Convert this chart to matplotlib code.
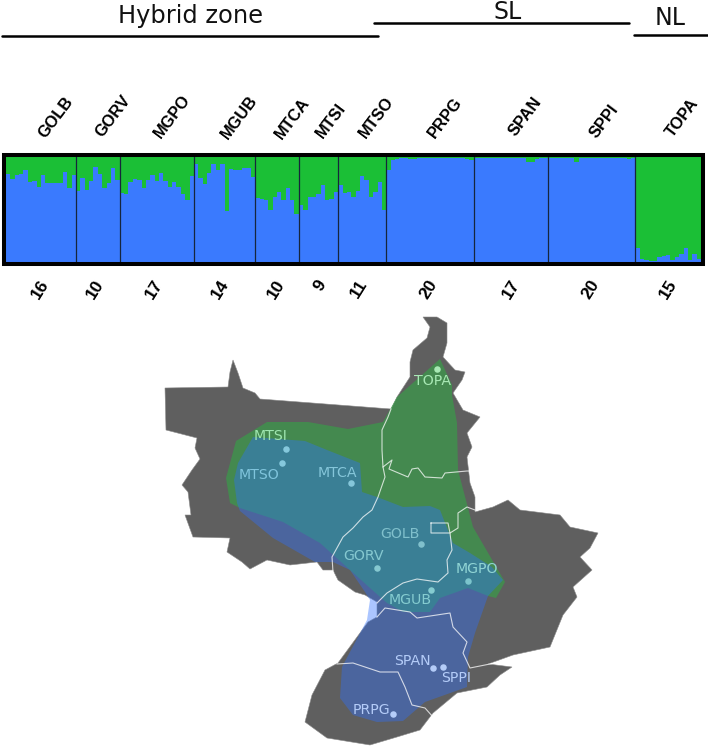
import numpy as np
import matplotlib
matplotlib.use('Agg')
from matplotlib import pyplot as plt
from matplotlib.patches import Polygon, Rectangle

W, H = 708, 748

# proporcion de cluster verde por individuo
populations = ['GOLB', 'GORV', 'MGPO', 'MGUB', 'MTCA', 'MTSI', 'MTSO', 'PRPG', 'SPAN', 'SPPI', 'TOPA']
GOLB = [.16, .21, .175, .16, .12, .24, .23, .285, .17, .25, .25, .25, .25, .14, .295, .17]
GORV = [.32, .20, .31, .23, .095, .16, .295, .25, .105, .215]
MGPO = [.34, .35, .24, .205, .22, .295, .22, .17, .23, .15, .23, .285, .24, .285, .35, .41, .185]
MGUB = [.07, .20, .255, .15, .07, .125, .07, .515, .11, .125, .12, .10, .10, .19]
MTCA = [.39, .40, .41, .50, .385, .33, .41, .295, .41, .54]
MTSI = [.46, .50, .385, .38, .35, .265, .405, .40, .335]
MTSO = [.27, .34, .33, .38, .32, .185, .22, .385, .335, .235, .50]
PRPG = [.12, .03, .015, .01, .01, .015, .015, .01, .01, .01, .01, .01, .01, .01, .01, .01, .01, .01, .015, .03]
SPAN = [.005, .005, .01, .005, .005, .005, .005, .01, .005, .005, .005, .005, .05, .045, .02, .01, .005]
SPPI = [.01, .01, .005, .005, .005, .005, .045, .01, .005, .005, .005, .01, .005, .005, .005, .005, .005, .005, .02, .005]
TOPA = [.87, .97, .985, .99, .99, .95, .94, .935, .985, .95, .92, .865, .985, .92, .97]
green_vals = [GOLB, GORV, MGPO, MGUB, MTCA, MTSI, MTSO, PRPG, SPAN, SPPI, TOPA]
counts = ['16', '10', '17', '14', '10', '9', '11', '20', '17', '20', '15']

# posiciones de etiquetas en pixeles de la imagen
pop_label_xy = [(56, 117), (113, 116), (172, 116), (239, 117), (292, 118), (331, 121), (376, 117),
                (445, 118), (525, 117), (604, 121), (682, 118)]
count_xy = [(40, 289), (95, 289), (154, 289), (220, 289), (276, 289), (320, 286), (359, 289),
            (429, 289), (511, 289), (591, 289), (668, 289)]

# mapa: contornos en pixeles de la imagen
land = [(165, 388), (228, 387), (230, 372), (233, 360), (238, 373), (243, 388), (255, 393), (260, 399), (391, 409),
        (397, 397), (410, 377), (410, 362), (413, 350), (427, 338), (430, 327), (423, 317), (437, 317), (447, 323),
        (447, 343), (443, 357), (455, 370), (465, 372), (462, 380), (453, 393), (463, 410), (480, 417), (467, 433),
        (472, 447), (467, 457), (470, 483), (475, 497), (475, 512), (493, 507), (508, 500), (520, 510), (560, 515),
        (570, 527), (598, 533), (590, 548), (580, 557), (592, 570), (573, 587), (577, 597), (563, 615), (550, 647),
        (513, 655), (488, 664), (512, 667), (500, 675), (487, 687), (457, 693), (433, 713), (420, 730), (397, 737),
        (370, 745), (327, 738), (305, 722), (312, 695), (325, 670), (338, 663), (360, 633), (368, 622), (377, 617),
        (377, 602), (365, 595), (355, 592), (338, 580), (333, 570), (323, 570), (317, 562), (290, 565), (267, 560),
        (250, 569), (242, 562), (227, 552), (230, 538), (193, 537), (185, 515), (191, 515), (188, 492), (182, 485),
        (192, 470), (200, 459), (195, 448), (197, 438), (166, 430)]
green_area = [(226, 478), (236, 441), (267, 422), (308, 422), (348, 429), (383, 422), (397, 397), (440, 359), (452, 385),
              (452, 395), (457, 423), (458, 470), (473, 527), (505, 582), (496, 598), (488, 596), (468, 588), (440, 598),
              (430, 612), (403, 612), (387, 603), (370, 588), (320, 543), (283, 522), (240, 508), (230, 503)]
blue_area = [(234, 480), (238, 463), (253, 437), (305, 441), (327, 450), (360, 463), (362, 492), (377, 497), (403, 507),
             (430, 506), (440, 510), (453, 543), (470, 553), (492, 567), (503, 580), (488, 596), (475, 633), (468, 657),
             (467, 687), (425, 702), (403, 721), (377, 722), (353, 715), (340, 698), (342, 667), (367, 620), (370, 600),
             (365, 592), (350, 570), (333, 562), (315, 562), (273, 538), (240, 511), (237, 503)]
borders = [
    [(391, 409), (388, 417), (382, 430), (382, 450), (383, 467), (385, 477), (378, 497), (372, 510), (363, 517),
     (353, 528), (343, 537), (332, 557), (333, 572)],
    [(383, 467), (392, 460), (389, 469), (408, 477), (412, 469), (418, 468), (425, 477), (442, 478), (445, 473),
     (467, 471), (472, 471)],
    [(475, 510), (467, 507), (458, 513), (458, 528), (450, 533), (452, 550), (447, 560), (448, 573), (438, 582),
     (417, 579), (403, 583), (387, 593), (377, 603)],
    [(431, 523), (448, 523), (450, 533), (431, 533), (431, 523)],
    [(377, 617), (385, 608), (410, 612), (417, 618), (450, 613), (453, 627), (467, 642), (463, 653), (470, 668),
     (500, 662), (512, 665)],
    [(337, 664), (353, 663), (380, 672), (398, 672), (405, 687), (412, 705), (425, 708), (433, 717)],
]

site_names = ['TOPA', 'MTSI', 'MTSO', 'MTCA', 'GOLB', 'GORV', 'MGPO', 'MGUB', 'SPAN', 'SPPI', 'PRPG']
site_text_xy = [(433, 381), (271, 436), (259, 475), (337, 473), (400, 534), (363, 556), (477, 569), (410, 600),
                (412, 661), (456, 678), (371, 710)]
site_dot_xy = [(437, 369), (286, 449), (282, 463), (351, 483), (421, 544), (377, 568), (468, 581), (431, 590),
               (433, 668), (443, 667), (393, 714)]
site_colors = ['#a8e8b4', '#9fe6b0', '#7fc4dc', '#85c6da', '#80c0cc', '#85c8d0', '#90d4d4', '#85ccd0',
               '#b4ccf8', '#b4ccf8', '#b4ccf8']
dot_colors = ['#a8e8b4', '#85c8dc', '#85c8dc', '#85c6da', '#80c0cc', '#85c8d0', '#7cc4cc', '#85ccd0',
              '#b4ccf8', '#b4ccf8', '#b4ccf8']

fig = plt.figure(figsize=(W / 100, H / 100), dpi=100, facecolor='white')

# barras de structure
ax = fig.add_axes([6 / W, 1 - 262 / H, 695 / W, 105 / H])
green = np.concatenate(green_vals)
x = np.arange(len(green))
ax.bar(x, 1 - green, width=1, align='edge', color='#3a7afe', linewidth=0, antialiased=False)
ax.bar(x, green, bottom=1 - green, width=1, align='edge', color='#1bbf36', linewidth=0, antialiased=False)
for s in np.cumsum([len(v) for v in green_vals])[:-1]:
    ax.axvline(s, color='#16263c', lw=0.9)
ax.set_xlim(0, len(green))
ax.set_ylim(0, 1)
ax.axis('off')

# capa en pixeles para mapa y textos
ov = fig.add_axes([0, 0, 1, 1], zorder=5)
ov.set_xlim(0, W)
ov.set_ylim(H, 0)
ov.axis('off')

ov.add_patch(Rectangle((3.5, 155), 699.5, 108.5, fill=False, ec='black', lw=2.9))

ov.plot([2, 378], [36, 36], color='black', lw=1.8, solid_capstyle='round')
ov.plot([374, 629], [22.5, 22.5], color='black', lw=1.8, solid_capstyle='round')
ov.plot([634, 708], [34.5, 34.5], color='black', lw=1.8, solid_capstyle='round')
ov.text(190, 22.5, 'Hybrid zone', fontsize=17.4, ha='center', va='baseline', color='#111111')
ov.text(508, 18.5, 'SL', fontsize=17, ha='center', va='baseline', color='#111111')
ov.text(670, 25, 'NL', fontsize=17, ha='center', va='baseline', color='#111111')

for name, (tx, ty) in zip(populations, pop_label_xy):
    ov.text(tx, ty, name, family='Liberation Sans', weight='bold', fontsize=11.8, rotation=53,
            ha='center', va='center', rotation_mode='anchor')
for c, (tx, ty) in zip(counts, count_xy):
    ov.text(tx, ty, c, family='Liberation Sans', weight='bold', fontsize=12.5, rotation=58,
            ha='center', va='center', rotation_mode='anchor')

ov.add_patch(Polygon(land, closed=True, fc='#5f5f5f', ec='#8a8a8a', lw=0.4))
ov.add_patch(Polygon(green_area, closed=True, fc='#2ab440', alpha=0.5, ec='none'))
ov.add_patch(Polygon(blue_area, closed=True, fc='#2d70ff', alpha=0.4, ec='none'))
for line in borders:
    xs, ys = zip(*line)
    ov.plot(xs, ys, color='white', lw=0.8, alpha=0.75)

for name, (tx, ty), (dx, dy), col, dcol in zip(site_names, site_text_xy, site_dot_xy, site_colors, dot_colors):
    ov.text(tx, ty, name, fontsize=10.2, ha='center', va='center', color=col)
    ov.scatter([dx], [dy], s=22, color=dcol, linewidths=0)

fig.savefig('out.png', dpi=100)
